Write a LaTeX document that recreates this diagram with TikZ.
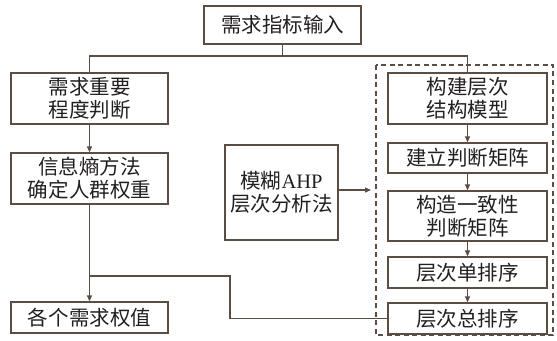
\documentclass[tikz,border=0pt]{standalone}
\usepackage{fontspec}
\setmainfont{Noto Sans CJK SC}
\newfontfamily\lat{Liberation Serif}
\usetikzlibrary{arrows.meta}
\definecolor{ln}{HTML}{5B4C44}
\definecolor{tx}{HTML}{231F20}
\tikzset{
  box/.style={draw=ln, line width=1.3bp, align=center, inner sep=0pt, text=tx,
    font=\fontsize{20.5bp}{23bp}\selectfont},
  conn/.style={draw=ln, line width=1.3bp},
  arr/.style={conn, -{Triangle[length=6bp,width=5bp]}},
}
\begin{document}
\begin{tikzpicture}[x=1bp,y=-1bp]
\useasboundingbox (0,0) rectangle (557,340);
\node[box, minimum width=157bp, minimum height=38bp] (top) at (282.5,25) {需求指标输入};
\node[box, minimum width=157bp, minimum height=51bp] (l1) at (89.5,98.5) {需求重要\\程度判断};
\node[box, minimum width=157bp, minimum height=51bp] (l2) at (89.5,178.5) {信息熵方法\\确定人群权重};
\node[box, minimum width=157bp, minimum height=31bp] (l3) at (89.5,317.5) {各个需求权值};
\node[box, minimum width=113bp, minimum height=95bp] (m) at (281.5,192.5) {模糊{\lat AHP}\\层次分析法};
\node[box, minimum width=159bp, minimum height=51bp] (r1) at (467.5,98.5) {构建层次\\结构模型};
\node[box, minimum width=159bp, minimum height=30bp] (r2) at (467.5,158) {建立判断矩阵};
\node[box, minimum width=159bp, minimum height=50bp] (r3) at (467.5,216) {构造一致性\\判断矩阵};
\node[box, minimum width=159bp, minimum height=31bp] (r4) at (467.5,272.5) {层次单排序};
\node[box, minimum width=159bp, minimum height=31bp] (r5) at (467.5,318.5) {层次总排序};
\draw[conn, dashed, dash pattern=on 5bp off 3.5bp] (376,65) rectangle (553,335);
% top connectors
\coordinate (j0) at (282.5,56);
\draw[conn] (top.south) -- (j0);
\draw[conn] (l1.north) -- (l1.north |- j0) -- (r1.north |- j0) -- (r1.north);
% left chain
\draw[arr] (l1) -- (l2);
\draw[arr] (l2) -- (l3);
\coordinate (j1) at (89.5,276);
\coordinate (j2) at (230,276);
\draw[conn] (j1) -- (j2) -- (j2 |- r5.west) -- (r5.west);
% middle arrow
\coordinate (me) at (371,190);
\draw[arr] (m.east |- me) -- (me);
% right chain
\draw[arr] (r1) -- (r2);
\draw[arr] (r2) -- (r3);
\draw[arr] (r3) -- (r4);
\draw[arr] (r4) -- (r5);
\end{tikzpicture}
\end{document}
